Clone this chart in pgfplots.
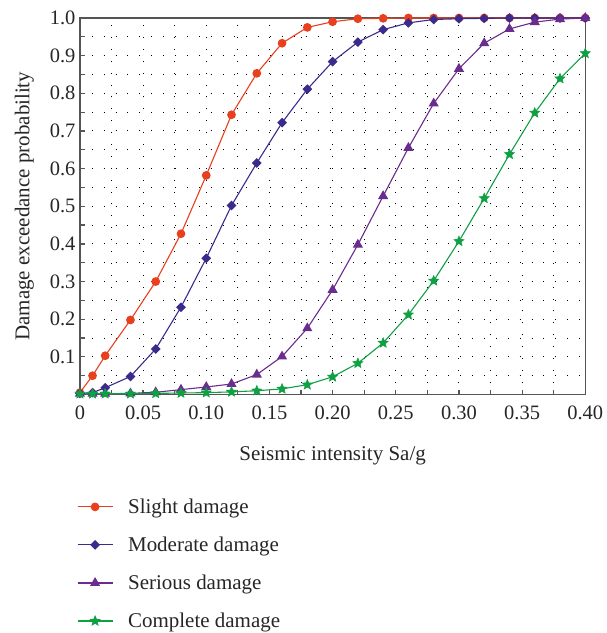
\documentclass[border=0pt]{standalone}
\usepackage{fontspec}
\setmainfont{Liberation Serif}
\usepackage{pgfplots}
\pgfplotsset{compat=1.18}
\definecolor{cSlight}{HTML}{E8401E}
\definecolor{cModerate}{HTML}{3B2A8C}
\definecolor{cSerious}{HTML}{6A2C8E}
\definecolor{cComplete}{HTML}{10A044}
\definecolor{cAxis}{HTML}{555555}
\pgfdeclareplotmark{fstar}{%
  \pgfpathmoveto{\pgfpointpolar{90}{\pgfplotmarksize}}%
  \pgfpathlineto{\pgfpointpolar{126}{0.45\pgfplotmarksize}}%
  \pgfpathlineto{\pgfpointpolar{162}{\pgfplotmarksize}}%
  \pgfpathlineto{\pgfpointpolar{198}{0.45\pgfplotmarksize}}%
  \pgfpathlineto{\pgfpointpolar{234}{\pgfplotmarksize}}%
  \pgfpathlineto{\pgfpointpolar{270}{0.45\pgfplotmarksize}}%
  \pgfpathlineto{\pgfpointpolar{306}{\pgfplotmarksize}}%
  \pgfpathlineto{\pgfpointpolar{342}{0.45\pgfplotmarksize}}%
  \pgfpathlineto{\pgfpointpolar{18}{\pgfplotmarksize}}%
  \pgfpathlineto{\pgfpointpolar{54}{0.45\pgfplotmarksize}}%
  \pgfpathclose
  \pgfusepathqfillstroke}
\begin{document}
\begin{tikzpicture}
\begin{axis}[
  scale only axis,
  width=506pt, height=377pt,
  xmin=0, xmax=0.40, ymin=0, ymax=1.0,
  axis line style={cAxis, line width=1.3pt},
  xtick={0,0.05,0.10,0.15,0.20,0.25,0.30,0.35,0.40},
  xticklabels={0,0.05,0.10,0.15,0.20,0.25,0.30,0.35,0.40},
  minor xtick={0.025,0.075,0.125,0.175,0.225,0.275,0.325,0.375},
  ytick={0.1,0.2,0.3,0.4,0.5,0.6,0.7,0.8,0.9,1.0},
  yticklabels={0.1,0.2,0.3,0.4,0.5,0.6,0.7,0.8,0.9,1.0},
  minor ytick={0.05,0.15,0.25,0.35,0.45,0.55,0.65,0.75,0.85,0.95},
  tick pos=left,
  tick align=inside,
  major tick length=5pt, minor tick length=5pt,
  tick style={cAxis, line width=1.2pt},
  grid=both,
  major grid style={black, line width=0.9pt, dash pattern=on 0.9pt off 11pt},
  minor grid style={black, line width=0.9pt, dash pattern=on 0.9pt off 11pt},
  ticklabel style={font=\fontsize{20.5}{22}\selectfont, text=black!85},
  xticklabel style={yshift=-8pt},
  yticklabel style={xshift=-1pt},
  xlabel={Seismic intensity Sa/g},
  ylabel={Damage exceedance probability},
  label style={font=\fontsize{21}{25}\selectfont, text=black!85},
  xlabel style={yshift=-20pt},
  ylabel style={yshift=9pt},
  legend style={draw=none, fill=none, at={(-0.006,-0.266)}, anchor=north west,
    font=\fontsize{21}{25}\selectfont, text=black!85,
    row sep=18pt, inner xsep=0pt, cells={anchor=west}},
  legend cell align=left,
  legend image code/.code={\draw[mark repeat=2,mark phase=2] plot coordinates {(0pt,0pt) (17.5pt,0pt) (35pt,0pt)};\path (48pt,0pt);},
  clip=false,
]
\addplot[cSlight, line width=1.1pt, mark=*, mark size=3.8pt, mark options={solid, fill=cSlight}] coordinates {
(0,0.005) (0.01,0.05) (0.02,0.103) (0.04,0.198) (0.06,0.300) (0.08,0.427) (0.10,0.582)
(0.12,0.743) (0.14,0.853) (0.16,0.933) (0.18,0.975) (0.20,0.990) (0.22,0.998) (0.24,0.999)
(0.26,1.0) (0.28,1.0) (0.30,1.0) (0.32,1.0) (0.34,1.0) (0.36,1.0) (0.38,1.0) (0.40,1.0)};
\addlegendentry{Slight damage}
\addplot[cModerate, line width=1.1pt, mark=square*, mark size=2.9pt, mark options={solid, fill=cModerate, rotate=45}] coordinates {
(0,0.003) (0.01,0.005) (0.02,0.018) (0.04,0.048) (0.06,0.121) (0.08,0.232) (0.10,0.362)
(0.12,0.502) (0.14,0.615) (0.16,0.722) (0.18,0.811) (0.20,0.884) (0.22,0.936) (0.24,0.969)
(0.26,0.987) (0.28,0.996) (0.30,0.998) (0.32,0.999) (0.34,1.0) (0.36,1.0) (0.38,1.0) (0.40,1.0)};
\addlegendentry{Moderate damage}
\addplot[cSerious, line width=1.1pt, mark=triangle*, mark size=4.8pt, mark options={solid, fill=cSerious}] coordinates {
(0,0.002) (0.01,0.002) (0.02,0.002) (0.04,0.003) (0.06,0.006) (0.08,0.013) (0.10,0.020)
(0.12,0.028) (0.14,0.053) (0.16,0.101) (0.18,0.176) (0.20,0.278) (0.22,0.398) (0.24,0.527)
(0.26,0.655) (0.28,0.773) (0.30,0.865) (0.32,0.933) (0.34,0.971) (0.36,0.989) (0.38,0.997) (0.40,1.0)};
\addlegendentry{Serious damage}
\addplot[cComplete, line width=1.1pt, mark=fstar, mark size=5.2pt, mark options={solid, fill=cComplete, line width=0.6pt}] coordinates {
(0,0.002) (0.01,0.002) (0.02,0.002) (0.04,0.002) (0.06,0.003) (0.08,0.004) (0.10,0.005)
(0.12,0.007) (0.14,0.010) (0.16,0.015) (0.18,0.026) (0.20,0.047) (0.22,0.083) (0.24,0.137)
(0.26,0.212) (0.28,0.302) (0.30,0.407) (0.32,0.521) (0.34,0.638) (0.36,0.748) (0.38,0.839) (0.40,0.906)};
\addlegendentry{Complete damage}
\end{axis}
\path[use as bounding box] (-80pt,-238pt) rectangle (523pt,395pt);
\end{tikzpicture}
\end{document}
